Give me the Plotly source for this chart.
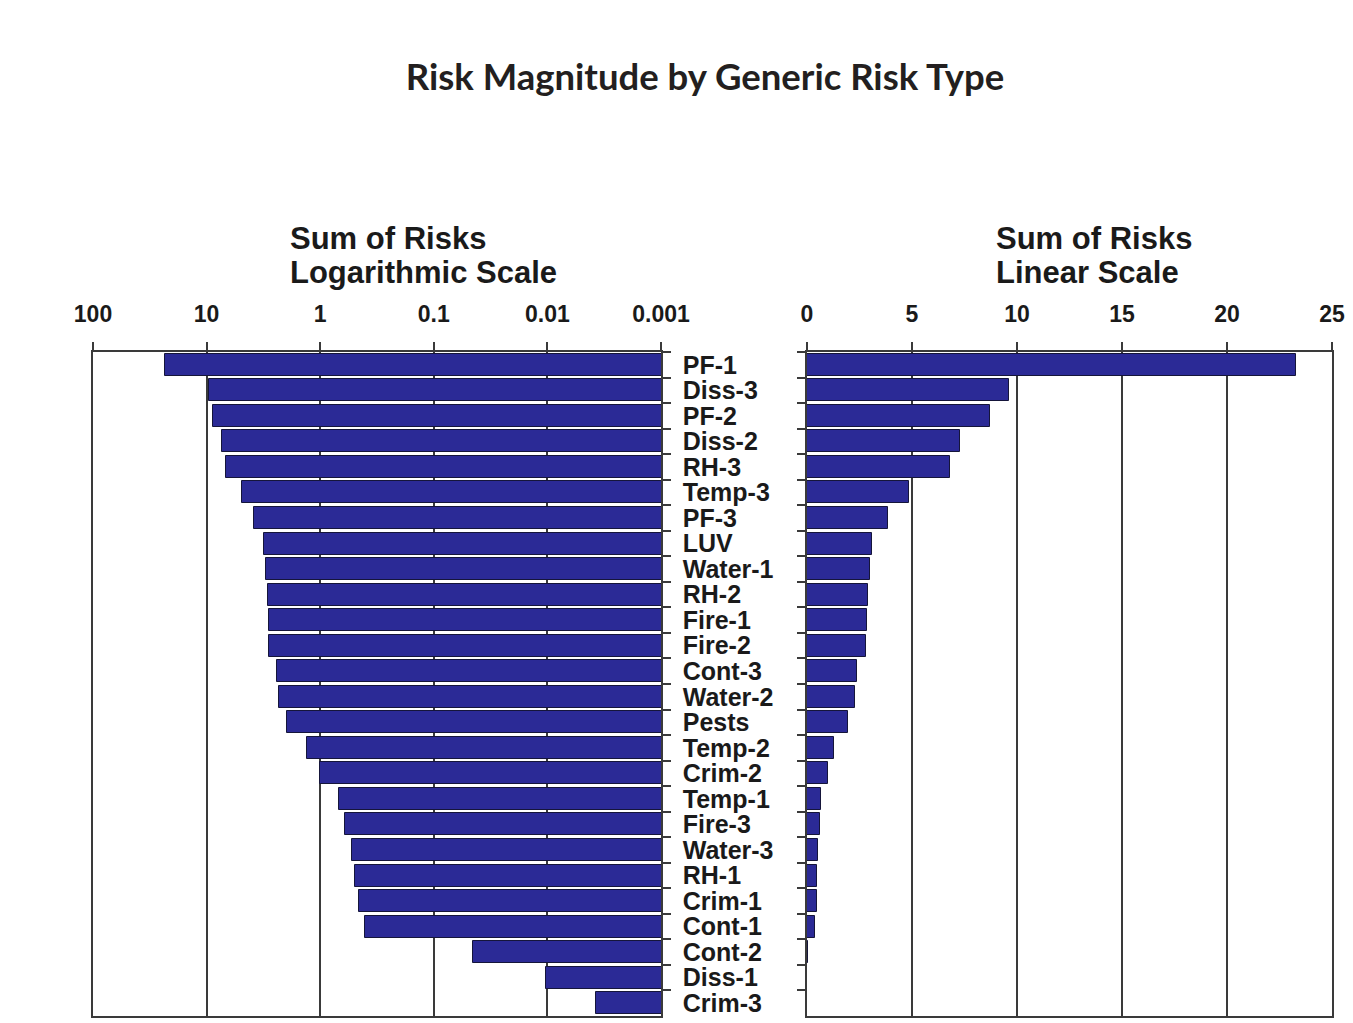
import plotly.graph_objects as go

# Generic risk types, ordered from largest to smallest summed risk
risk_types = [
    "PF-1", "Diss-3", "PF-2", "Diss-2", "RH-3", "Temp-3", "PF-3", "LUV",
    "Water-1", "RH-2", "Fire-1", "Fire-2", "Cont-3", "Water-2", "Pests",
    "Temp-2", "Crim-2", "Temp-1", "Fire-3", "Water-3", "RH-1", "Crim-1",
    "Cont-1", "Cont-2", "Diss-1", "Crim-3",
]

# Sum of risks for each type
sum_of_risks = [
    23.3, 9.6, 8.7, 7.3, 6.8, 4.85, 3.85, 3.1,
    3.0, 2.9, 2.85, 2.8, 2.4, 2.3, 1.95,
    1.3, 1.0, 0.68, 0.6, 0.52, 0.49, 0.46,
    0.40, 0.045, 0.0103, 0.0037,
]

# Axis ticks
log_tick_vals = [100, 10, 1, 0.1, 0.01, 0.001]
log_tick_text = ["100", "10", "1", "0.1", "0.01", "0.001"]
lin_tick_vals = [0, 5, 10, 15, 20, 25]
lin_tick_text = ["0", "5", "10", "15", "20", "25"]

W, H = 1353, 1023
BAR_FILL = "#2B2A96"
BAR_EDGE = "#15153A"
INK = "#1a1a1a"
GRID = "#3a3a3a"


def px_x(p):
    return p / W


def px_y(p):
    return 1 - p / H


fig = go.Figure()

fig.add_trace(go.Bar(
    x=sum_of_risks, y=risk_types, orientation="h",
    xaxis="x", yaxis="y", width=0.86,
    marker=dict(color=BAR_FILL, line=dict(color=BAR_EDGE, width=1)),
    showlegend=False,
))
fig.add_trace(go.Bar(
    x=sum_of_risks, y=risk_types, orientation="h",
    xaxis="x2", yaxis="y2", width=0.86,
    marker=dict(color=BAR_FILL, line=dict(color=BAR_EDGE, width=1)),
    showlegend=False,
))

tick_font = dict(family="Liberation Sans, Arial, sans-serif", size=23, color=INK, weight="bold")
cat_font = dict(family="Liberation Sans, Arial, sans-serif", size=25, color=INK, weight="bold")

y_top, y_bot = 352, 1016

fig.update_layout(
    width=W, height=H,
    margin=dict(l=0, r=0, t=0, b=0),
    paper_bgcolor="white", plot_bgcolor="white",
    bargap=0,
    title=dict(
        text="Risk Magnitude by Generic Risk Type",
        x=px_x(705), y=px_y(77), xanchor="center", yanchor="middle",
        font=dict(family="Lato, Open Sans, sans-serif", size=36.5, color="#231f20", weight="bold"),
    ),
    xaxis=dict(
        type="log", range=[2, -3], side="top",
        domain=[px_x(93), px_x(661)],
        tickvals=log_tick_vals, ticktext=log_tick_text,
        tickfont=tick_font, ticks="outside", ticklen=8, tickwidth=1.5, tickcolor=GRID,
        ticklabelstandoff=11,
        showgrid=True, gridcolor=GRID, gridwidth=1.5,
        showline=True, linecolor=GRID, linewidth=1.5, mirror=True,
        zeroline=False, automargin=False, fixedrange=True,
    ),
    yaxis=dict(
        type="category", side="right", autorange="reversed",
        domain=[px_y(y_bot), px_y(y_top)], anchor="x",
        tickmode="linear", tick0=0, dtick=1,
        tickfont=cat_font, ticks="outside", ticklen=8, tickwidth=1.5, tickcolor=GRID,
        tickson="boundaries", ticklabelstandoff=15,
        showline=True, linecolor=GRID, linewidth=1.5, mirror=True,
        showgrid=False, zeroline=False, automargin=False,
    ),
    xaxis2=dict(
        type="linear", range=[0, 25], side="top",
        domain=[px_x(807), px_x(1332)], anchor="y2",
        tickvals=lin_tick_vals, ticktext=lin_tick_text,
        tickfont=tick_font, ticks="outside", ticklen=8, tickwidth=1.5, tickcolor=GRID,
        ticklabelstandoff=11,
        showgrid=True, gridcolor=GRID, gridwidth=1.5,
        showline=True, linecolor=GRID, linewidth=1.5, mirror=True,
        zeroline=False, automargin=False,
    ),
    yaxis2=dict(
        type="category", side="left", autorange="reversed",
        domain=[px_y(y_bot), px_y(y_top)], anchor="x2",
        tickmode="linear", tick0=0, dtick=1,
        showticklabels=False, ticks="outside", ticklen=8, tickwidth=1.5, tickcolor=GRID,
        tickson="boundaries",
        showline=True, linecolor=GRID, linewidth=1.5, mirror=True,
        showgrid=False, zeroline=False, automargin=False,
    ),
)

# Panel headings, one annotation per line
head_font = dict(family="Liberation Sans, Arial, sans-serif", size=31, color=INK, weight="bold")
headings = [
    (288, 238, "Sum of Risks"), (288, 272, "Logarithmic Scale"),
    (994, 238, "Sum of Risks"), (994, 272, "Linear Scale"),
]
for x_left, y_mid, text in headings:
    fig.add_annotation(
        x=px_x(x_left), y=px_y(y_mid), xref="paper", yref="paper",
        xanchor="left", yanchor="middle", align="left",
        text=text, showarrow=False, font=head_font,
    )

fig.write_html("out.html")
